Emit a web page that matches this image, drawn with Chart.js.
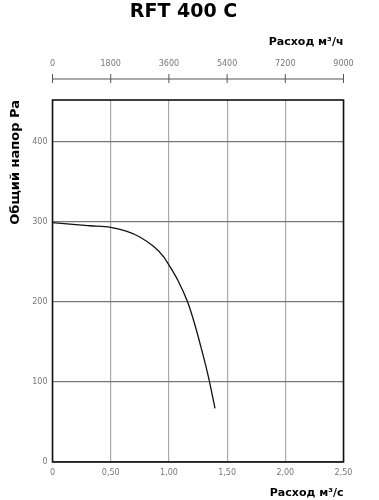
<!DOCTYPE html>
<html>
<head>
<meta charset="utf-8">
<script src="https://cdn.jsdelivr.net/npm/chart.js@4/dist/chart.umd.min.js"></script>
<style>
  body { margin: 0; background: #fff; }
</style>
</head>
<body>
<canvas id="fanCurve" width="379" height="500"></canvas>
<script>
// fan curve (flow m3/s, total pressure Pa)
const flow = [0, 0.15, 0.32, 0.50, 0.64, 0.75, 0.87, 0.95, 1.00, 1.08, 1.16, 1.22, 1.28, 1.34, 1.396];
const pressure = [299, 297, 295, 293, 288, 281, 269, 257, 246, 226, 200, 173, 141, 106, 67];

const yTicks = [0, 100, 200, 300, 400];
const xTicks = [0, 0.5, 1, 1.5, 2, 2.5];
const xTickLabels = ['0', '0,50', '1,00', '1,50', '2,00', '2,50'];
const topTicks = [0, 1800, 3600, 5400, 7200, 9000];

const tickFont = { family: 'DejaVu Sans', size: 8, weight: 'normal' };
const tickColor = '#777';

// title, the detached m3/h axis above the plot, and the frame round the plot
const sheetDecor = {
  id: 'sheetDecor',
  afterDraw(chart) {
    const ctx = chart.ctx;
    const x2 = chart.scales.x2;
    const area = chart.chartArea;
    const axisY = area.top - 21;

    ctx.save();
    ctx.fillStyle = '#000';
    ctx.font = 'bold 19px "DejaVu Sans"';
    ctx.textAlign = 'center';
    ctx.textBaseline = 'middle';
    ctx.fillText('RFT 400 C', chart.width / 2 - 6, 12);

    ctx.strokeStyle = '#555';
    ctx.lineWidth = 1;
    ctx.beginPath();
    ctx.moveTo(x2.left, axisY);
    ctx.lineTo(x2.right, axisY);
    topTicks.forEach(t => {
      const px = x2.getPixelForValue(t);
      ctx.moveTo(px, axisY - 5);
      ctx.lineTo(px, axisY + 4);
    });
    ctx.stroke();

    ctx.fillStyle = tickColor;
    ctx.font = '8px "DejaVu Sans"';
    topTicks.forEach(t => ctx.fillText(String(t), x2.getPixelForValue(t), axisY - 15));

    ctx.fillStyle = '#000';
    ctx.font = 'bold 11px "DejaVu Sans"';
    ctx.textAlign = 'right';
    ctx.fillText('Расход м³/ч', area.right, axisY - 37);

    ctx.strokeStyle = '#111';
    ctx.lineWidth = 1.6;
    ctx.strokeRect(area.left, area.top, area.right - area.left, area.bottom - area.top);
    ctx.restore();
  }
};

const ctx = document.getElementById('fanCurve');
new Chart(ctx, {
  type: 'line',
  data: {
    datasets: [
      {
        data: flow.map((f, i) => ({ x: f, y: pressure[i] })),
        borderColor: '#111',
        borderWidth: 1.3,
        pointRadius: 0,
        cubicInterpolationMode: 'monotone',
        xAxisID: 'x'
      }
    ]
  },
  options: {
    responsive: false,
    animation: false,
    devicePixelRatio: 1,
    layout: { padding: { top: 100, right: 35.5, left: 0, bottom: 0 } },
    plugins: {
      legend: { display: false },
      tooltip: { enabled: false }
    },
    scales: {
      x: {
        type: 'linear',
        position: 'bottom',
        min: 0,
        max: 2.5,
        afterBuildTicks: s => { s.ticks = xTicks.map(v => ({ value: v })); },
        afterFit: s => { s.height = 38; },
        grid: { color: '#aaa', lineWidth: 1.2, drawTicks: false },
        border: { display: false },
        ticks: {
          font: tickFont,
          color: tickColor,
          padding: 6,
          maxRotation: 0,
          autoSkip: false,
          callback: (v, i) => xTickLabels[i]
        },
        title: {
          display: true,
          text: 'Расход м³/с',
          align: 'end',
          color: '#000',
          font: { family: 'DejaVu Sans', size: 11, weight: 'bold' },
          padding: { top: 0, bottom: 0 }
        }
      },
      x2: {
        type: 'linear',
        position: 'top',
        display: false,
        min: 0,
        max: 9000
      },
      y: {
        min: 0,
        max: 452,
        afterBuildTicks: s => { s.ticks = yTicks.map(v => ({ value: v })); },
        afterFit: s => { s.width = 52.5; },
        grid: { color: '#777', lineWidth: 1.2, drawTicks: false },
        border: { display: false },
        ticks: { font: tickFont, color: tickColor, padding: 5 },
        title: {
          display: true,
          text: 'Общий напор Pa',
          align: 'end',
          color: '#000',
          font: { family: 'DejaVu Sans', size: 13, weight: 'bold' },
          padding: { top: 8, bottom: 0 }
        }
      }
    }
  },
  plugins: [sheetDecor]
});
</script>
</body>
</html>
